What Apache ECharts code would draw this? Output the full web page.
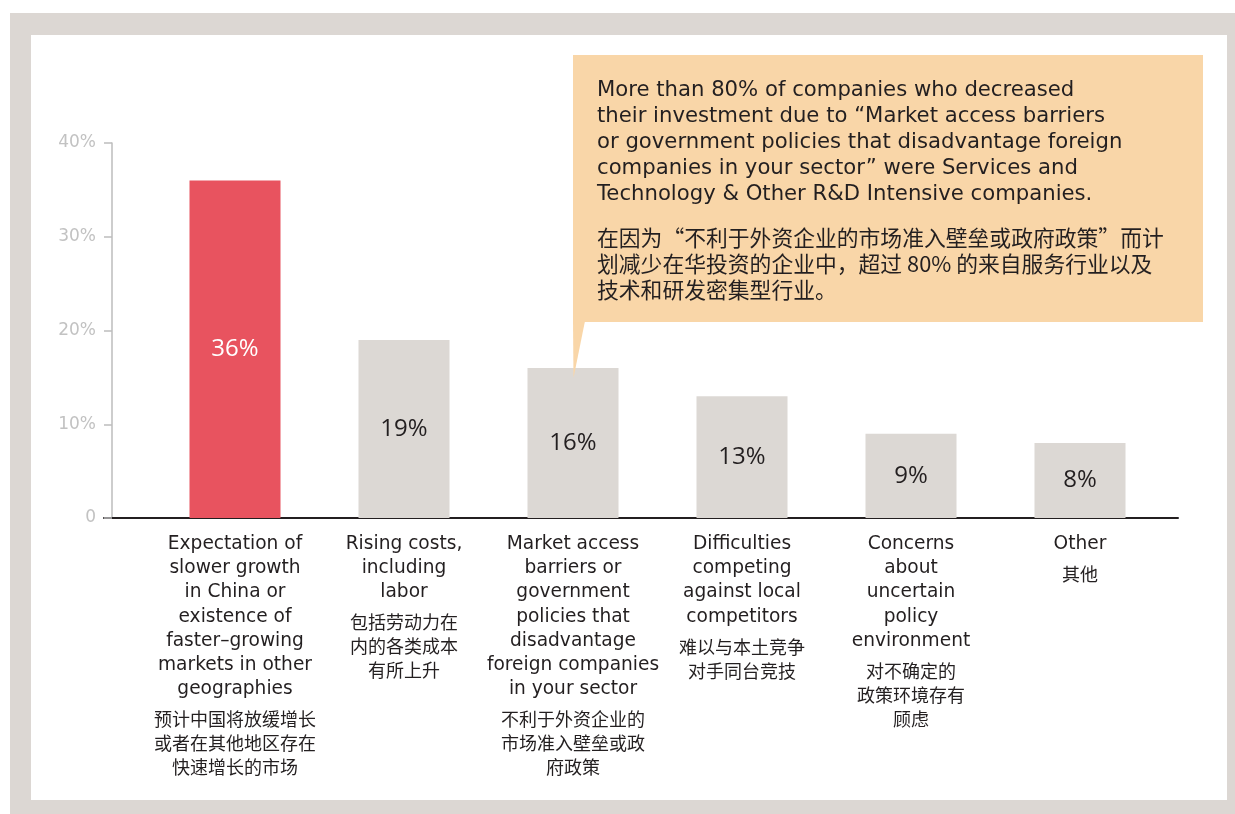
<!DOCTYPE html>
<html>
<head>
<meta charset="utf-8">
<script src="https://cdn.jsdelivr.net/npm/echarts@6/dist/echarts.min.js"></script>
<style>
  html, body { margin: 0; padding: 0; background: #ffffff; }
  #chart { width: 1235px; height: 814px; }
</style>
</head>
<body>
<div id="chart"></div>
<script>
// Reasons for decreasing investment in China (share of respondents, %)
const categoriesEn = [
  'Expectation of\nslower growth\nin China or\nexistence of\nfaster–growing\nmarkets in other\ngeographies',
  'Rising costs,\nincluding\nlabor',
  'Market access\nbarriers or\ngovernment\npolicies that\ndisadvantage\nforeign companies\nin your sector',
  'Difficulties\ncompeting\nagainst local\ncompetitors',
  'Concerns\nabout\nuncertain\npolicy\nenvironment',
  'Other'
];
const categoriesCn = [
  '预计中国将放缓增长\n或者在其他地区存在\n快速增长的市场',
  '包括劳动力在\n内的各类成本\n有所上升',
  '不利于外资企业的\n市场准入壁垒或政\n府政策',
  '难以与本土竞争\n对手同台竞技',
  '对不确定的\n政策环境存有\n顾虑',
  '其他'
];
const values = [36, 19, 16, 13, 9, 8];
const yTicks = [0, 10, 20, 30, 40];

const calloutEn = 'More than 80% of companies who decreased\ntheir investment due to “Market access barriers\nor government policies that disadvantage foreign\ncompanies in your sector” were Services and\nTechnology & Other R&D Intensive companies.';
const calloutCn = '在因为“不利于外资企业的市场准入壁垒或政府政策”而计\n划减少在华投资的企业中，超过 80% 的来自服务行业以及\n技术和研发密集型行业。';

const RED = '#e8535f';
const GREY = '#dcd8d4';
const FRAME = '#dcd7d3';
const INK = '#231f20';
const LATIN = '"DejaVu Sans", "Noto Sans CJK SC", sans-serif';
const CJK = '"Noto Sans CJK SC", sans-serif';

const catLabels = categoriesEn.map((en, i) => {
  const enPart = en.split('\n').map(s => '{en|' + s + '}').join('\n');
  const cnPart = categoriesCn[i].split('\n').map(s => '{cn|' + s + '}').join('\n');
  return enPart + '\n{gap| }\n' + cnPart;
});

const chart = echarts.init(document.getElementById('chart'), null, { renderer: 'canvas' });

chart.setOption({
  animation: false,
  backgroundColor: '#ffffff',
  graphic: [
    // outer frame
    { type: 'rect', z: -10, shape: { x: 10, y: 13, width: 1225, height: 801 }, style: { fill: FRAME } },
    { type: 'rect', z: -9, shape: { x: 31, y: 35, width: 1196, height: 765 }, style: { fill: '#ffffff' } },
    // callout box with pointer
    { type: 'rect', z: 20, shape: { x: 573, y: 55, width: 630, height: 267 }, style: { fill: '#f9d6a8' } },
    { type: 'polygon', z: 20, shape: { points: [[573, 321], [585, 321], [573.5, 378]] }, style: { fill: '#f9d6a8' } },
    {
      type: 'text', z: 21, x: 597, y: 77,
      style: { text: calloutEn, font: '21.2px ' + LATIN, fill: INK, lineHeight: 26.2, verticalAlign: 'top' }
    },
    {
      type: 'text', z: 21, x: 597, y: 225,
      style: { text: calloutCn, font: '21.8px ' + CJK, fill: INK, lineHeight: 26, verticalAlign: 'top' }
    }
  ],
  grid: [
    { left: 150.5, right: 70.5, top: 143, bottom: 296 },
    { left: 104, right: 57, top: 143, bottom: 296 }
  ],
  xAxis: [
    {
      type: 'category', gridIndex: 0, data: catLabels,
      axisLine: { show: false }, axisTick: { show: false },
      axisLabel: {
        interval: 0, margin: 14, color: INK, verticalAlign: 'top',
        rich: {
          en: { fontFamily: LATIN, fontSize: 18.6, lineHeight: 24.2, color: INK, align: 'center' },
          gap: { fontSize: 1, lineHeight: 6 },
          cn: { fontFamily: CJK, fontSize: 18, lineHeight: 24, color: INK, align: 'center' }
        }
      }
    },
    {
      type: 'value', gridIndex: 1, min: 0, max: 1,
      axisLine: { show: true, lineStyle: { color: '#231f20', width: 2 } },
      axisTick: { show: false }, axisLabel: { show: false }, splitLine: { show: false }
    }
  ],
  yAxis: [
    {
      type: 'value', gridIndex: 0, min: yTicks[0], max: yTicks[yTicks.length - 1], interval: 10,
      offset: 38.5,
      axisLine: { show: true, lineStyle: { color: '#bdbdbd', width: 1.5 } },
      axisTick: { show: true, inside: false, length: 8, lineStyle: { color: '#bdbdbd', width: 1.5 } },
      splitLine: { show: false },
      axisLabel: {
        margin: 16, color: '#c2c2c2', fontFamily: LATIN, fontSize: 17,
        formatter: v => (v === 0 ? '0' : v + '%')
      }
    },
    { type: 'value', gridIndex: 1, min: 0, max: 40, show: false }
  ],
  series: [
    {
      type: 'bar', xAxisIndex: 0, yAxisIndex: 0, barWidth: 91,
      data: values.map((v, i) => ({
        value: v,
        itemStyle: { color: i === 0 ? RED : GREY },
        label: { color: i === 0 ? '#ffffff' : INK }
      })),
      label: {
        show: true, position: 'inside',
        fontFamily: '"Open Sans", sans-serif', fontSize: 24,
        formatter: p => p.value + '%'
      }
    }
  ]
});
</script>
</body>
</html>
